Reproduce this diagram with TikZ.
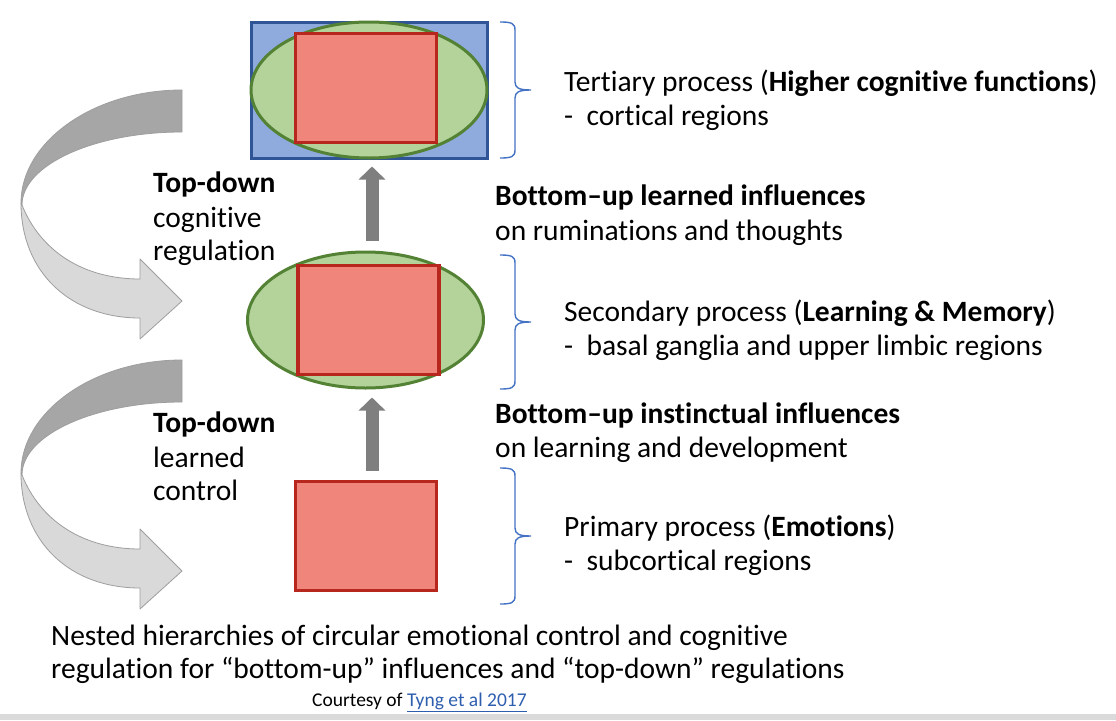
\documentclass[tikz,border=0pt]{standalone}
\usepackage{fontspec}
\setmainfont{Carlito}[Ligatures={TeX,NoCommon}]
\usetikzlibrary{arrows.meta,shapes.geometric}

\definecolor{boxblue}{HTML}{8FAADC}
\definecolor{boxblueline}{HTML}{2F5597}
\definecolor{ovalgreen}{HTML}{B3D39A}
\definecolor{ovalline}{HTML}{548235}
\definecolor{corered}{HTML}{F0857B}
\definecolor{coreline}{HTML}{B8271D}
\definecolor{bracecol}{HTML}{4472C4}
\definecolor{upgray}{HTML}{7F7F7F}
\definecolor{ribbondark}{HTML}{A6A6A6}
\definecolor{ribbonlight}{HTML}{D9D9D9}
\definecolor{ribbonedge}{HTML}{9E9E9E}
\definecolor{linkblue}{HTML}{2E5FAF}
\definecolor{bandgray}{HTML}{DADADA}

\newcommand{\levelbrace}[2]{%
  \pgfmathsetmacro{\bmid}{(#1+#2)/2}%
  \draw[bracestyle] (500,#1) .. controls (511,#1) and (515,#1+1) .. (515,#1+8)
    -- (515,\bmid-8) .. controls (515,\bmid-2) and (519,\bmid) .. (531,\bmid)
    .. controls (519,\bmid) and (515,\bmid+2) .. (515,\bmid+8)
    -- (515,#2-8) .. controls (515,#2-1) and (511,#2) .. (500,#2);}

\begin{document}
\begin{tikzpicture}[x=1pt,y=-1pt,
  txt/.style={anchor=base west,inner sep=0pt,font=\fontsize{29.5}{35}\selectfont},
  small/.style={anchor=base west,inner sep=0pt,font=\fontsize{19.5}{23}\selectfont},
  outerbox/.style={draw=boxblueline,fill=boxblue,line width=3pt,minimum width=236pt,minimum height=136pt,inner sep=0pt},
  oval/.style={ellipse,draw=ovalline,fill=ovalgreen,line width=3pt,minimum width=236pt,minimum height=136pt,inner sep=0pt},
  core/.style={draw=coreline,fill=corered,line width=3.5pt,minimum width=141pt,minimum height=109pt,inner sep=0pt},
  uparr/.style={draw=upgray,line width=13pt,-{Triangle[width=26pt,length=13pt]}},
  bracestyle/.style={draw=bracecol,line width=1.4pt},
  ribbontop/.style={fill=ribbondark,draw=ribbonedge,line width=0.8pt,line join=round},
  ribbonlow/.style={fill=ribbonlight,draw=ribbonedge,line width=0.8pt,line join=round}]

\useasboundingbox (0,0) rectangle (1116,720);
\fill[white] (0,0) rectangle (1116,720);
\fill[bandgray] (0,714) rectangle (1116,720);

% nested levels
\node[outerbox] (tbox) at (369,90) {};
\node[oval] (toval) at (369,90) {};
\node[core] (tcore) at (366,88) {};

\node[oval] (moval) at (365.5,320) {};
\node[core] (mcore) at (368.5,320) {};

\node[core] (bcore) at (366,536) {};

% bottom-up arrows
\draw[uparr,shorten <=10pt,shorten >=7pt] ([xshift=6.5pt]moval.north) -- ([xshift=3pt]tbox.south);
\draw[uparr,shorten <=9pt,shorten >=8pt] ([xshift=6pt]bcore.north) -- ([xshift=6.5pt]moval.south);

% top-down curved ribbons
\foreach \dy in {0,270}{
\begin{scope}[shift={(0,\dy)}]
  \path[ribbonlow] (21,203) .. controls (21,272) and (70,318) .. (140,318)
     -- (140,339) -- (182,301) -- (140,259) -- (140,279)
     .. controls (82,279) and (40,250) .. (22,205) -- cycle;
  \path[ribbontop] (182,90) .. controls (93,90) and (21,142) .. (21,203)
     -- (22,205) .. controls (22,165) and (94,132) .. (182,132) -- cycle;
\end{scope}}

% braces
\levelbrace{22}{158}
\levelbrace{255}{389}
\levelbrace{468}{604}

% level descriptions
\node[txt] (t1) at (564,91) {Tertiary process (\textbf{Higher cognitive functions})};
\node[txt] (t2) at (564,125) {-\ \ cortical regions};
\node[txt] (s1) at (564,321) {Secondary process (\textbf{Learning \& Memory})};
\node[txt] (s2) at (564,355) {-\ \ basal ganglia and upper limbic regions};
\node[txt] (p1) at (564,536) {Primary process (\textbf{Emotions})};
\node[txt] (p2) at (564,570) {-\ \ subcortical regions};

% bottom-up labels
\node[txt] (u1) at (495,205) {\textbf{Bottom–up learned influences}};
\node[txt] (u2) at (495,240) {on ruminations and thoughts};
\node[txt] (v1) at (495,423) {\textbf{Bottom–up instinctual influences}};
\node[txt] (v2) at (495,457) {on learning and development};

% top-down labels
\node[txt] (c1) at (153,192) {\textbf{Top-down}};
\node[txt] (c2) at (153,227) {cognitive};
\node[txt] (c3) at (153,260) {regulation};
\node[txt] (l1) at (153,432) {\textbf{Top-down}};
\node[txt] (l2) at (153,467) {learned};
\node[txt] (l3) at (153,500) {control};

% caption
\node[txt] (n1) at (51,645) {Nested hierarchies of circular emotional control and cognitive};
\node[txt] (n2) at (51,678) {regulation for “bottom-up” influences and “top-down” regulations};
\node[small] (cr) at (312,706) {Courtesy of {\color{linkblue}\underline{Tyng et al 2017}}};
\end{tikzpicture}
\end{document}
